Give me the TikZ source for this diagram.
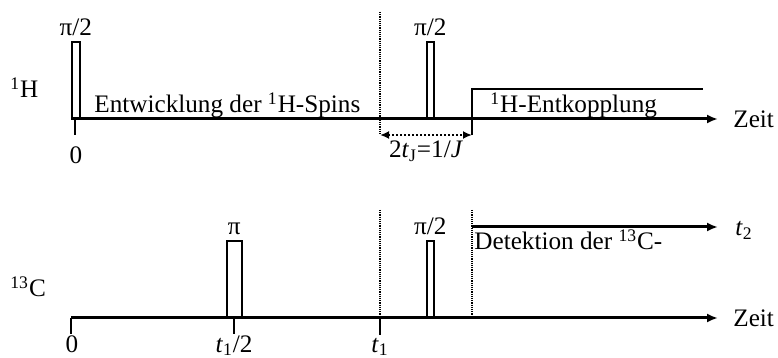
\documentclass[tikz,border=0pt]{standalone}
\usepackage{fontspec}
\setmainfont{Liberation Serif}
\usetikzlibrary{arrows.meta,positioning}

\tikzset{
  axis/.style={line width=1.5pt, -{Latex[length=5.5pt,width=4.5pt]}},
  pulse/.style={draw, line width=0.8pt, inner sep=0pt, minimum height=38pt},
  marker/.style={line width=0.6pt, dash pattern=on 0.6pt off 0.5pt},
  tickline/.style={line width=0.7pt},
  dimarrow/.style={line width=1.2pt, dash pattern=on 1pt off 1pt,
                   {Latex[length=4.5pt,width=4pt]}-{Latex[length=4.5pt,width=4pt]}},
  lbl/.style={inner sep=0pt},
}

\begin{document}
\begin{tikzpicture}[x=0.5pt, y=-0.5pt, font=\fontsize{12.6}{15}\selectfont]
  \useasboundingbox (0,0) rectangle (778,358);

  % 1H channel
  \coordinate (hA) at (71,119);
  \coordinate (hB) at (718,119);
  \node[lbl, anchor=base west] (nameH) at (10,98) {\textsuperscript{1}H};
  \node[pulse, minimum width=4pt, anchor=south west] (pH1) at (71,119) {};
  \node[pulse, minimum width=3.5pt, anchor=south west] (pH2) at (426,119) {};
  \node[lbl, above=2.5pt of pH1] (lH1) {π/2};
  \node[lbl, above=2.5pt of pH2] (lH2) {π/2};
  \draw[axis] (hA) -- (hB);
  \node[lbl, anchor=base west] (zeitH) at (733,128) {Zeit};
  \node[lbl, anchor=base west] (entw) at (94,113) {Entwicklung der \textsuperscript{1}H-Spins};
  \draw[tickline] (75,119) -- (75,135);
  \node[lbl, anchor=base] (zeroH) at (76,164) {0};

  % evolution marker and decoupling
  \coordinate (mTop) at (380,12);
  \coordinate (mLow) at (380,135);
  \coordinate (dLow) at (472,135);
  \coordinate (dEnd) at (703,89);
  \draw[marker] (mTop) -- (mLow);
  \draw[tickline] (dLow) |- (dEnd);
  \draw[dimarrow] (mLow) -- (dLow);
  \node[lbl, anchor=base] (tJ) at (426,158)
    {2\textit{t}\textsubscript{J}=1/\textit{J}};
  \node[lbl, anchor=base west] (entk) at (490,113) {\textsuperscript{1}H-Entkopplung};

  % 13C channel
  \coordinate (cA) at (71,318);
  \coordinate (cB) at (718,318);
  \node[lbl, anchor=base west] (nameC) at (10,297) {\textsuperscript{13}C};
  \node[pulse, minimum width=7.5pt, anchor=south west] (pC1) at (226,318) {};
  \node[pulse, minimum width=3.5pt, anchor=south west] (pC2) at (426,318) {};
  \node[lbl, above=2.5pt of pC1] (lC1) {π};
  \node[lbl, above=2.5pt of pC2] (lC2) {π/2};
  \draw[marker] (380,210) -- (380,318);
  \draw[marker] (472,210) -- (472,318);
  \draw[axis] (cA) -- (cB);
  \node[lbl, anchor=base west] (zeitC) at (733,327) {Zeit};
  \draw[tickline] (71,318) -- (71,334);
  \draw[tickline] (234,318) -- (234,334);
  \draw[tickline] (380,318) -- (380,335);
  \node[lbl, anchor=base] (zeroC) at (72,352) {0};
  \node[lbl, anchor=base] (halfC) at (234,352) {\textit{t}\textsubscript{1}/2};
  \node[lbl, anchor=base] (tOne) at (380,352) {\textit{t}\textsubscript{1}};

  % detection period
  \coordinate (dA) at (472,227);
  \coordinate (dB) at (718,227);
  \draw[axis] (dA) -- (dB);
  \node[lbl, anchor=base west] (tTwo) at (735,236) {\textit{t}\textsubscript{2}};
  \node[lbl, anchor=base west] (detek) at (474,250) {Detektion der \textsuperscript{13}C-};
\end{tikzpicture}
\end{document}
